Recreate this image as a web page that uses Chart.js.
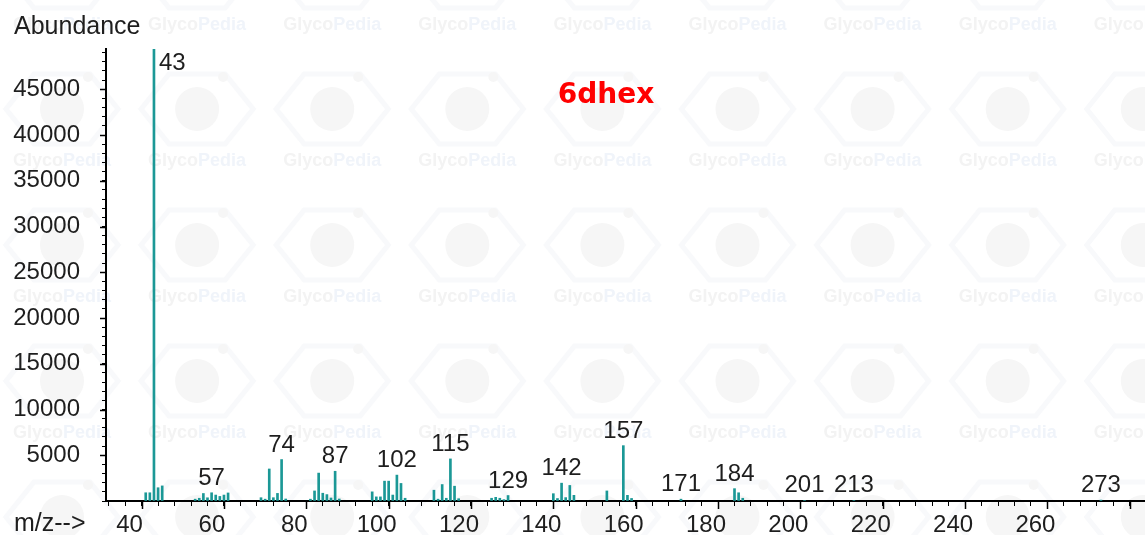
<!DOCTYPE html>
<html>
<head>
<meta charset="utf-8">
<title>6dhex spectrum</title>
<script src="https://cdn.jsdelivr.net/npm/chart.js@4.4.1/dist/chart.umd.min.js"></script>
<style>
  html, body { margin: 0; padding: 0; background: #fff; }
  canvas { display: block; }
</style>
</head>
<body>
<canvas id="spectrum" width="1145" height="535"></canvas>
<script>
// peaks (m/z and abundance)
const mz = [41, 42, 43, 44, 45,
  53, 54, 55, 56, 57, 58, 59, 60, 61,
  69, 70, 71, 72, 73, 74, 75,
  81, 82, 83, 84, 85, 86, 87, 88,
  96, 97, 98, 99, 100, 101, 102, 103, 104,
  111, 112, 113, 114, 115, 116, 117,
  125, 126, 127, 128, 129,
  140, 141, 142, 143, 144, 145,
  153, 157, 158, 159,
  171, 184, 185, 186,
  201, 213, 273];
const abundance = [900, 900, 49400, 1450, 1650,
  200, 300, 820, 350, 900, 650, 500, 650, 880,
  360, 200, 3500, 360, 830, 4530, 220,
  200, 1100, 3050, 850, 700, 330, 3250, 220,
  1000, 450, 450, 2170, 2170, 650, 2830, 1920, 300,
  1180, 200, 1800, 300, 4600, 1620, 250,
  300, 400, 300, 150, 600,
  800, 270, 1950, 370, 1700, 620,
  1100, 6050, 620, 280,
  200, 1350, 900, 300,
  60, 60, 100];
const peakLabels = [43, 57, 74, 87, 102, 115, 129, 142, 157, 171, 184, 201, 213, 273];

const xLabels = [40, 60, 80, 100, 120, 140, 160, 180, 200, 220, 240, 260];
const yLabels = [5000, 10000, 15000, 20000, 25000, 30000, 35000, 40000, 45000];
const X_MIN = 31.35, X_MAX = 283.7, X_MINOR = 4, X_MAJOR = 20;
const Y_MAX = 49400, Y_MINOR = 1000, Y_MAJOR = 5000;

const FONT = '"Liberation Sans", Arial, sans-serif';
const TEAL = '#1b9896';

function stepValues(from, to, step) {
  const out = [];
  for (let v = from; v <= to; v += step) out.push(v);
  return out;
}

const watermark = {
  id: 'watermark',
  beforeDraw(chart) {
    const ctx = chart.ctx;
    ctx.save();
    ctx.fillStyle = '#fff';
    ctx.fillRect(0, 0, chart.width, chart.height);
    ctx.font = 'bold 18px ' + FONT;
    ctx.textBaseline = 'middle';
    ctx.textAlign = 'left';
    for (let j = 0; j < 5; j++) {
      for (let i = 0; i < 9; i++) {
        const cx = 62 + 135.1 * i, ty = 25 + 136 * j, ly = ty - 52;
        ctx.strokeStyle = '#f8f9fb';
        ctx.lineWidth = 5;
        ctx.beginPath();
        ctx.moveTo(cx - 56, ly);
        ctx.lineTo(cx - 28, ly - 35);
        ctx.lineTo(cx + 28, ly - 35);
        ctx.lineTo(cx + 56, ly);
        ctx.lineTo(cx + 28, ly + 35);
        ctx.lineTo(cx - 28, ly + 35);
        ctx.closePath();
        ctx.stroke();
        ctx.fillStyle = '#f6f6f6';
        ctx.beginPath();
        ctx.arc(cx, ly, 22, 0, 2 * Math.PI);
        ctx.fill();
        ctx.beginPath();
        ctx.arc(cx + 26, ly - 32, 5, 0, 2 * Math.PI);
        ctx.fill();
        const w1 = ctx.measureText('Glyco').width;
        const w2 = ctx.measureText('Pedia').width;
        const x0 = cx - (w1 + w2) / 2;
        ctx.fillStyle = '#f3f3f3';
        ctx.fillText('Glyco', x0, ty);
        ctx.fillStyle = '#f0f4fa';
        ctx.fillText('Pedia', x0 + w1, ty);
      }
    }
    ctx.restore();
  }
};

const decorations = {
  id: 'decorations',
  afterDraw(chart) {
    const {ctx, chartArea, scales: {x, y}} = chart;
    ctx.save();
    // longer major ticks
    ctx.strokeStyle = '#000';
    ctx.lineWidth = 1.5;
    stepValues(40, 280, X_MAJOR).forEach(v => {
      const px = Math.round(x.getPixelForValue(v)) + 0.5;
      ctx.beginPath();
      ctx.moveTo(px, chartArea.bottom);
      ctx.lineTo(px, chartArea.bottom + 8);
      ctx.stroke();
    });
    stepValues(Y_MAJOR, 45000, Y_MAJOR).forEach(v => {
      const py = Math.round(y.getPixelForValue(v)) + 0.5;
      ctx.beginPath();
      ctx.moveTo(chartArea.left, py);
      ctx.lineTo(chartArea.left - 6, py);
      ctx.stroke();
    });

    // peak labels
    ctx.font = '24px ' + FONT;
    ctx.fillStyle = '#1e1e1e';
    peakLabels.forEach(m => {
      const v = abundance[mz.indexOf(m)];
      const px = x.getPixelForValue(m), py = y.getPixelForValue(v);
      ctx.textBaseline = 'alphabetic';
      if (py < chartArea.top + 20) {
        ctx.textAlign = 'left';
        ctx.fillText(String(m), px + 5, py + 21);
      } else {
        ctx.textAlign = 'center';
        ctx.fillText(String(m), px, py - 8);
      }
    });

    // axis captions
    ctx.font = '25px ' + FONT;
    ctx.textAlign = 'left';
    ctx.fillText('Abundance', 14, 34);
    ctx.fillText('m/z-->', 14, 531);

    // compound name
    ctx.font = 'bold 28px "DejaVu Sans", Verdana, sans-serif';
    ctx.fillStyle = '#ff0000';
    ctx.textAlign = 'center';
    ctx.fillText('6dhex', 606, 103);
    ctx.restore();
  }
};

new Chart(document.getElementById('spectrum'), {
  type: 'bar',
  data: {
    datasets: [{
      data: mz.map((m, i) => ({x: m, y: abundance[i]})),
      backgroundColor: TEAL,
      borderWidth: 0,
      barThickness: 2
    }]
  },
  options: {
    responsive: false,
    devicePixelRatio: 1,
    animation: false,
    events: [],
    layout: { padding: { top: 49, left: 0, right: 0, bottom: 0 } },
    plugins: { legend: { display: false }, tooltip: { enabled: false } },
    scales: {
      x: {
        type: 'linear',
        min: X_MIN,
        max: X_MAX,
        offset: false,
        afterBuildTicks: s => { s.ticks = stepValues(32, 280, X_MINOR).map(v => ({value: v})); },
        afterFit: s => { s.height = 34; s.paddingLeft = 0; s.paddingRight = 0; },
        grid: { drawOnChartArea: false, offset: false, tickLength: 5, tickColor: '#000', tickWidth: 1 },
        border: { color: '#000', width: 2 },
        ticks: {
          autoSkip: false,
          maxRotation: 0,
          padding: 5,
          labelOffset: -12,
          color: '#1e1e1e',
          font: { family: FONT, size: 24 },
          callback: v => xLabels.includes(v) ? String(v) : ''
        }
      },
      y: {
        min: 0,
        max: Y_MAX,
        afterBuildTicks: s => { s.ticks = stepValues(0, 49000, Y_MINOR).map(v => ({value: v})); },
        afterFit: s => { s.width = 106; s.paddingTop = 0; s.paddingBottom = 0; },
        grid: { drawOnChartArea: false, tickLength: 4, tickColor: '#000', tickWidth: 1 },
        border: { color: '#000', width: 2 },
        ticks: {
          autoSkip: false,
          padding: 22,
          color: '#1e1e1e',
          font: { family: FONT, size: 24 },
          callback: v => yLabels.includes(v) ? String(v) : ''
        }
      }
    }
  },
  plugins: [watermark, decorations]
});
</script>
</body>
</html>
